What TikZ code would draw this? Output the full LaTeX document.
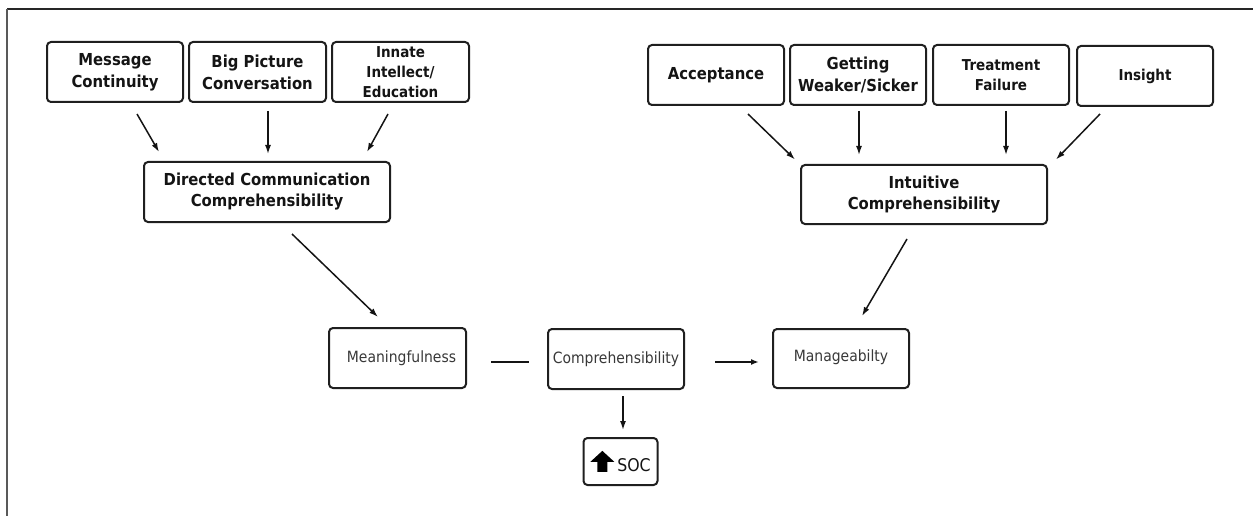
\documentclass[tikz,border=0pt]{standalone}
\usepackage{fontspec}
\setmainfont{DejaVu Sans}[FakeStretch=0.9]
\usetikzlibrary{arrows.meta,calc}

% filled block arrow pointing up, used in the SOC box
\newcommand{\upblock}{\tikz[x=1pt,y=1pt,baseline=0pt,sharp corners]
  \fill[black] (7,0) -- (17,0) -- (17,10) -- (24,10) -- (12,21) -- (0,10) -- (7,10) -- cycle;}

\tikzset{
  box/.style={draw=black!88, line width=2pt, rounded corners=4pt, align=center,
              inner sep=0pt, text=black!92},
  bigbox/.style={box, minimum width=136pt, minimum height=60pt,
                 font=\bfseries\fontsize{16.5}{22}\selectfont},
  smallbox/.style={box, minimum width=136pt, minimum height=60pt,
                 font=\bfseries\fontsize{15}{20}\selectfont},
  midbox/.style={box, minimum width=246pt, minimum height=60pt,
                 font=\bfseries\fontsize{16.5}{21}\selectfont},
  rowbox/.style={box, minimum width=137pt, minimum height=60pt, text=black!78,
                 font=\fontsize{15.5}{19}\selectfont},
  conn/.style={line width=1.5pt, draw=black!92, -{Latex[length=9pt,width=6pt]}},
  thickconn/.style={line width=2.3pt, draw=black!92, -{Latex[length=8pt,width=6pt]}},
  plainconn/.style={line width=2.3pt, draw=black!92}
}

\begin{document}
\begin{tikzpicture}[x=1pt,y=-1pt]
\useasboundingbox (0,0) rectangle (1253,516);

% outer frame (top and left edges)
\coordinate (frameTL) at (7,9);
\coordinate (frameTR) at (1253,9);
\coordinate (frameBL) at (7,516);
\draw[line width=1.6pt, black!85] (frameTL) -- (frameTR);
\draw[line width=2pt, black!65] (frameBL) -- (frameTL);

% left cluster
\node[bigbox]   (mc)  at (115,72)   {Message\\Continuity};
\node[bigbox, minimum width=137pt] (bp) at (257.5,72) {Big Picture\\Conversation};
\node[smallbox, minimum width=137pt] (ii) at (400.5,72) {Innate\\Intellect/\\Education};
\node[midbox]   (dcc) at (267,192)  {Directed Communication\\Comprehensibility};

% right cluster
\node[bigbox]   (acc) at (716,75)   {Acceptance};
\node[bigbox]   (gw)  at (858,75)   {Getting\\Weaker/Sicker};
\node[smallbox] (tf)  at (1001,75)  {Treatment\\Failure};
\node[smallbox] (ins) at (1145,76)  {Insight};
\node[midbox, minimum height=59pt] (ic) at (924,194.5) {Intuitive\\Comprehensibility};

% middle row
\node[rowbox] (mean) at (397.5,358) {\hspace*{8pt}Meaningfulness};
\node[rowbox, minimum width=136pt] (comp) at (616,359) {Comprehensibility};
\node[rowbox, minimum width=136pt, minimum height=59pt] (man) at (841,358.5) {\raisebox{5pt}{Manageabilty}};
\node[box, minimum width=74pt, minimum height=47pt, font=\fontsize{17.5}{20}\selectfont]
     (soc) at (620.5,461.5) {\upblock\,SOC};

% connectors into the left summary box
\draw[conn] ($(mc.south)+(22,11)$)  -- ($(dcc.north west)+(16,-9)$);
\draw[conn] ($(bp.south)+(10.5,8)$) -- ($(dcc.north)+(1,-7)$);
\draw[conn] ($(ii.south)+(-12.5,11)$) -- ($(dcc.north east)+(-24,-9)$);

% connectors into the right summary box
\draw[conn] ($(acc.south)+(32,8)$)  -- ($(ic.north west)+(-5,-4.5)$);
\draw[conn] ($(gw.south)+(1,5)$)    -- ($(ic.north)+(-65,-9)$);
\draw[conn] ($(tf.south)+(5,5)$)    -- ($(ic.north)+(82,-9)$);
\draw[conn] ($(ins.south)+(-45,7)$) -- ($(ic.north east)+(8,-4.5)$);

% summaries down to the middle row
\draw[conn] ($(dcc.south)+(25,11)$) -- ($(mean.north)+(-19.5,-10)$);
\draw[conn] ($(ic.south)+(-17,14)$) -- ($(man.north)+(21,-12)$);

% middle row links
\draw[plainconn] ($(mean.east)+(24,4)$) -- ($(comp.west)+(-18,3)$);
\draw[thickconn] ($(comp.east)+(30,3)$) -- ($(man.west)+(-13,3.5)$);
\draw[conn] ($(comp.south)+(7,6)$) -- ($(soc.north)+(2.5,-7)$);
\end{tikzpicture}
\end{document}
